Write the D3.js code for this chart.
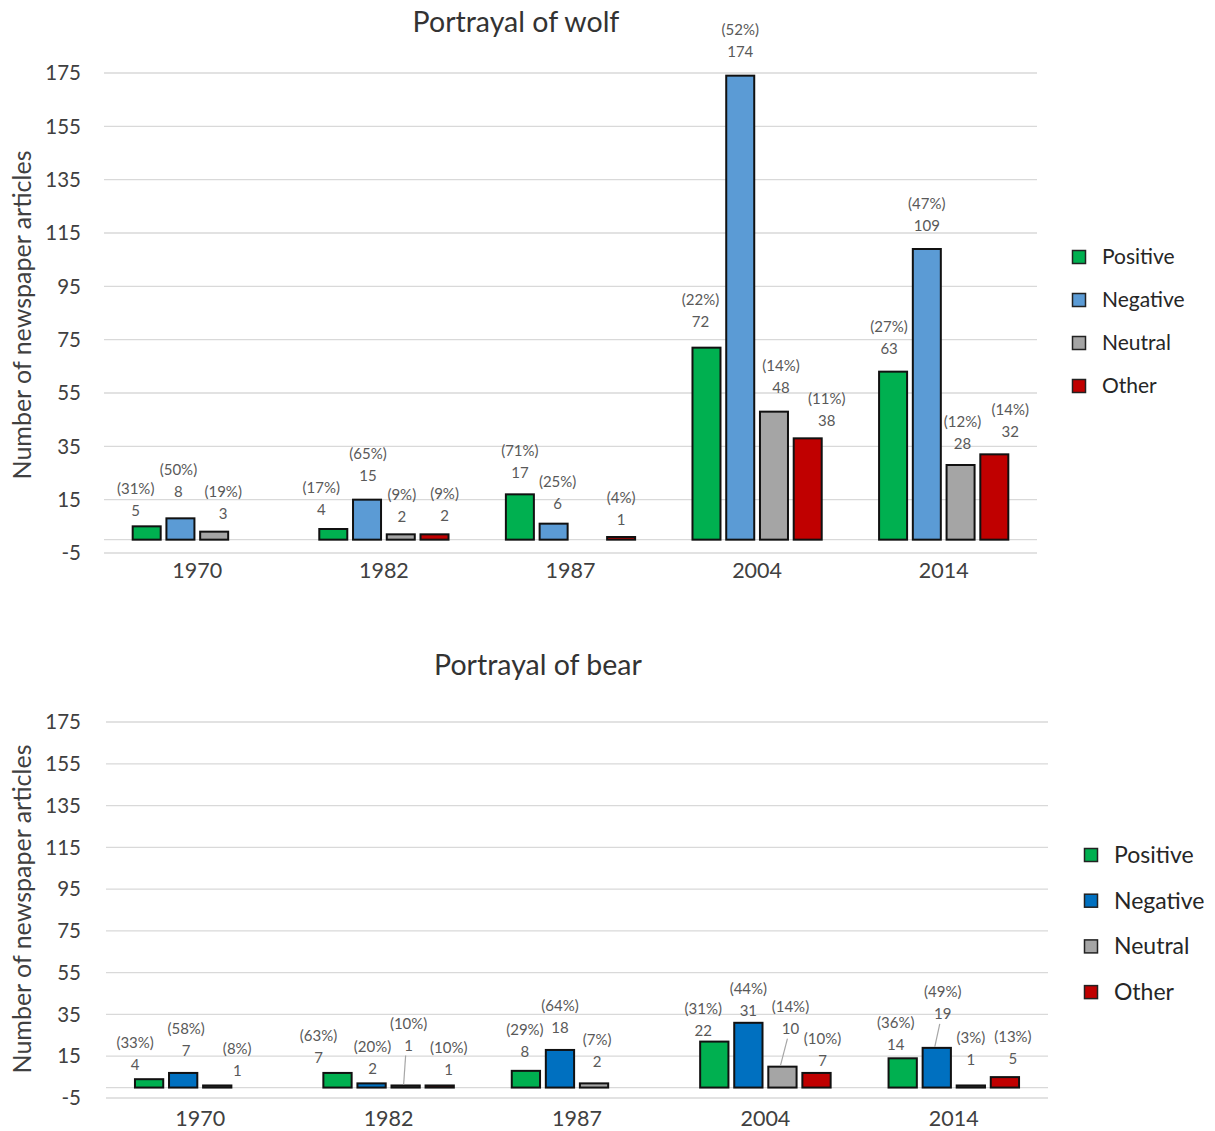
<!DOCTYPE html>
<html>
<head>
<meta charset="utf-8">
<script src="https://cdn.jsdelivr.net/npm/d3@7/dist/d3.min.js"></script>
<style>
  html, body { margin: 0; padding: 0; background: #fff; }
  svg { display: block; font-family: Lato, "Open Sans", sans-serif; }
</style>
</head>
<body>
<svg id="chart" width="1215" height="1131"></svg>
<script>
// Newspaper articles per year, by how the animal was portrayed
const years = ["1970", "1982", "1987", "2004", "2014"];
const series = ["Positive", "Negative", "Neutral", "Other"];
const yTicks = [-5, 15, 35, 55, 75, 95, 115, 135, 155, 175];

// Wolf
const wolfPositive = [5, 4, 17, 72, 63];
const wolfNegative = [8, 15, 6, 174, 109];
const wolfNeutral  = [3, 2, 0, 48, 28];
const wolfOther    = [0, 2, 1, 38, 32];
const wolfPositivePct = ["31%", "17%", "71%", "22%", "27%"];
const wolfNegativePct = ["50%", "65%", "25%", "52%", "47%"];
const wolfNeutralPct  = ["19%", "9%", null, "14%", "12%"];
const wolfOtherPct    = [null, "9%", "4%", "11%", "14%"];

// Bear
const bearPositive = [4, 7, 8, 22, 14];
const bearNegative = [7, 2, 18, 31, 19];
const bearNeutral  = [1, 1, 2, 10, 1];
const bearOther    = [0, 1, 0, 7, 5];
const bearPositivePct = ["33%", "63%", "29%", "31%", "36%"];
const bearNegativePct = ["58%", "20%", "64%", "44%", "49%"];
const bearNeutralPct  = ["8%", "10%", "7%", "14%", "3%"];
const bearOtherPct    = [null, "10%", null, "10%", "13%"];

// Hand-placed data label nudges [dx, dy from bar top, leader line]
const wolfLabelNudge = [
  [[-11, -16], [-2, -27], [9, -18], [0, -18]],
  [[-12, -19], [1, -24], [1, -18], [10, -19]],
  [[0, -22], [4, -20], [0, -18], [0, -17]],
  [[-6, -26], [0, -24], [7, -24], [19, -18]],
  [[-4, -23], [0, -23], [2, -21], [16, -23]]
];
const bearLabelNudge = [
  [[-14, -14], [3, -22], [20, -15], [0, -15]],
  [[-19, -15], [1, -15], [3, -40, 1], [9, -16]],
  [[-1, -19], [0, -22], [3, -22], [0, -15]],
  [[-11, -11], [0, -12], [8, -38, 1], [6, -12]],
  [[-7, -14], [6, -34, 1], [0, -26], [8, -18]]
];

const svg = d3.select("#chart");

function drawPanel(cfg) {
  const g = svg.append("g");
  const x = d3.scaleBand().domain(years).range([cfg.left, cfg.right]).padding(0);
  const xs = d3.scaleBand().domain(series).range([0, x.bandwidth()])
    .paddingInner(0.17).paddingOuter(0.85);
  const y = d3.scaleLinear().domain([-5, 175]).range([cfg.bottom, cfg.top]);

  // gridlines and zero line
  g.selectAll("line.grid").data(yTicks.concat([0])).join("line")
    .attr("x1", cfg.left).attr("x2", cfg.right)
    .attr("y1", d => y(d)).attr("y2", d => y(d))
    .attr("stroke", "#d9d9d9").attr("stroke-width", 1.3);

  // y tick labels
  g.selectAll("text.ytick").data(yTicks).join("text")
    .attr("x", 81).attr("y", d => y(d)).attr("dy", "0.35em")
    .attr("text-anchor", "end").attr("font-size", 20.5).attr("fill", "#404040")
    .text(d => d);

  // category labels
  g.selectAll("text.xtick").data(years).join("text")
    .attr("x", d => x(d) + x.bandwidth() / 2).attr("y", cfg.catY).attr("dy", "0.35em")
    .attr("text-anchor", "middle").attr("font-size", 21.5).attr("fill", "#404040")
    .text(d => d);

  // axis title
  g.append("text")
    .attr("transform", `translate(22,${cfg.axisTitleY}) rotate(-90)`)
    .attr("text-anchor", "middle").attr("dy", "0.35em")
    .attr("font-size", 25).attr("fill", "#404040")
    .text("Number of newspaper articles");

  // chart title
  g.append("text")
    .attr("x", cfg.titleX).attr("y", cfg.titleY).attr("dy", "0.35em")
    .attr("text-anchor", "middle").attr("font-size", 28.5).attr("fill", "#333")
    .text(cfg.title);

  const rows = [];
  years.forEach((yr, i) => {
    series.forEach((s, j) => {
      rows.push({
        year: yr, series: s, value: cfg.values[j][i], pct: cfg.pcts[j][i],
        nudge: cfg.nudge[i][j], color: cfg.colors[j]
      });
    });
  });
  const shown = rows.filter(r => r.value > 0);

  // bars
  g.selectAll("rect.bar").data(shown).join("rect")
    .attr("x", d => x(d.year) + xs(d.series))
    .attr("width", xs.bandwidth())
    .attr("y", d => y(d.value))
    .attr("height", d => y(0) - y(d.value))
    .attr("fill", d => d.color)
    .attr("stroke", "#111").attr("stroke-width", 2);

  // data labels
  const lab = g.selectAll("g.lab").data(shown).join("g")
    .attr("transform", d => {
      const cx = x(d.year) + xs(d.series) + xs.bandwidth() / 2 + d.nudge[0];
      const cy = y(d.value) + d.nudge[1];
      return `translate(${cx},${cy})`;
    });
  lab.append("text").attr("text-anchor", "middle").attr("dy", "0.35em")
    .attr("font-size", 15).attr("fill", "#595959")
    .text(d => d.value);
  lab.append("text").attr("text-anchor", "middle").attr("y", -22).attr("dy", "0.35em")
    .attr("font-size", 15).attr("fill", "#595959")
    .text(d => d.pct ? `(${d.pct})` : "");

  // leader lines for labels moved away from their bars
  g.selectAll("line.leader").data(shown.filter(d => d.nudge[2])).join("line")
    .attr("x1", d => x(d.year) + xs(d.series) + xs.bandwidth() / 2 + d.nudge[0] - 3)
    .attr("y1", d => y(d.value) + d.nudge[1] + 10)
    .attr("x2", d => x(d.year) + xs(d.series) + xs.bandwidth() / 2 - 2)
    .attr("y2", d => y(d.value) - 1)
    .attr("stroke", "#a6a6a6").attr("stroke-width", 1.2);

  // legend
  const lg = g.selectAll("g.leg").data(series).join("g")
    .attr("transform", (d, i) => `translate(${cfg.legX},${cfg.legY + i * cfg.legStep})`);
  lg.append("rect").attr("x", -6.5).attr("y", -6.5).attr("width", 13).attr("height", 13)
    .attr("fill", (d, i) => cfg.colors[i]).attr("stroke", "#222").attr("stroke-width", 1.5);
  lg.append("text").attr("x", 23).attr("dy", "0.35em")
    .attr("font-size", cfg.legFont).attr("fill", "#262626").text(d => d);
}

drawPanel({
  title: "Portrayal of wolf", titleX: 516, titleY: 22,
  left: 104, right: 1037, top: 73, bottom: 553, catY: 570, axisTitleY: 315,
  values: [wolfPositive, wolfNegative, wolfNeutral, wolfOther],
  pcts: [wolfPositivePct, wolfNegativePct, wolfNeutralPct, wolfOtherPct],
  nudge: wolfLabelNudge,
  colors: ["#00b050", "#5b9bd5", "#a5a5a5", "#c00000"],
  legX: 1079, legY: 257, legStep: 43, legFont: 21
});

drawPanel({
  title: "Portrayal of bear", titleX: 538, titleY: 665,
  left: 106, right: 1048, top: 722, bottom: 1098, catY: 1118, axisTitleY: 909,
  values: [bearPositive, bearNegative, bearNeutral, bearOther],
  pcts: [bearPositivePct, bearNegativePct, bearNeutralPct, bearOtherPct],
  nudge: bearLabelNudge,
  colors: ["#00b050", "#0070c0", "#a5a5a5", "#c00000"],
  legX: 1091, legY: 855, legStep: 45.7, legFont: 23
});
</script>
</body>
</html>
